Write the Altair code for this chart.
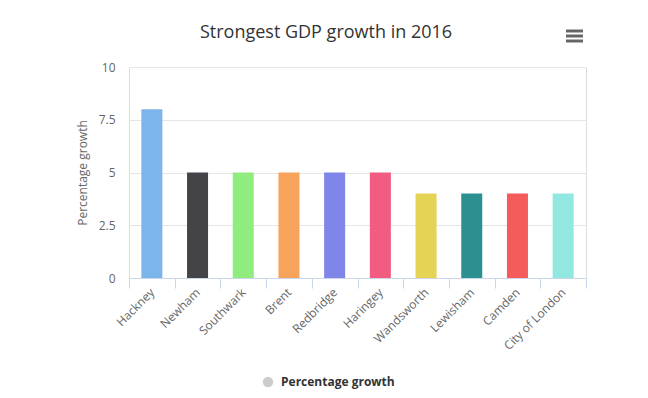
import altair as alt
import pandas as pd

boroughs = ["Hackney", "Newham", "Southwark", "Brent", "Redbridge", "Haringey",
            "Wandsworth", "Lewisham", "Camden", "City of London"]
growth = [8, 5, 5, 5, 5, 5, 4, 4, 4, 4]
colors = ["#7cb5ec", "#434348", "#90ed7d", "#f7a35c", "#8085e9", "#f15c80",
          "#e4d354", "#2b908f", "#f45b5b", "#91e8e1"]
y_ticks = [0, 2.5, 5, 7.5, 10]
title_text = "Strongest GDP growth in 2016"
series_name = "Percentage growth"

df = pd.DataFrame({"Borough": boroughs, "Growth": growth})
one = pd.DataFrame({"k": [0]})

FONT = "Open Sans"
W, H = 457, 211

bars = alt.Chart(df).mark_bar(width={"band": 0.46}).encode(
    x=alt.X("Borough:N", sort=boroughs,
            scale=alt.Scale(paddingInner=0, paddingOuter=0),
            axis=alt.Axis(title=None, labelAngle=-45, labelAlign="right",
                          labelBaseline="middle", tickBand="extent",
                          tickSize=10, labelPadding=2, domainColor="#ccd6eb",
                          tickColor="#ccd6eb", labelColor="#666666",
                          labelFontSize=12, labelFont=FONT, grid=False)),
    y=alt.Y("Growth:Q", scale=alt.Scale(domain=[0, 10], nice=False),
            axis=alt.Axis(title=series_name, values=y_ticks,
                          labelExpr="toString(datum.value)",
                          domain=False, ticks=False, gridColor="#e6e6e6",
                          labelColor="#666666", labelFontSize=12, labelFont=FONT,
                          labelPadding=14, titleColor="#666666", titleFontSize=12,
                          titleFont=FONT, titleFontWeight="normal", titlePadding=9)),
    color=alt.Color("Borough:N", sort=boroughs,
                    scale=alt.Scale(domain=boroughs, range=colors), legend=None),
)

title = alt.Chart(one).mark_text(fontSize=18, font=FONT, color="#333333",
                                 align="center", baseline="alphabetic").encode(
    x=alt.value(197), y=alt.value(-29), text=alt.value(title_text))

menu_rows = pd.DataFrame({"yy": [-36, -31, -26]})
menu = alt.Chart(menu_rows).mark_rule(strokeWidth=3, color="#666666").encode(
    x=alt.value(437), x2=alt.value(454), y=alt.Y("yy:Q", scale=None))

legend_dot = alt.Chart(one).mark_point(filled=True, shape="circle", size=110,
                                       color="#cccccc", opacity=1).encode(
    x=alt.value(139), y=alt.value(315))
legend_text = alt.Chart(one).mark_text(fontSize=12, font=FONT, fontWeight="bold",
                                       color="#333333", align="left",
                                       baseline="middle").encode(
    x=alt.value(152), y=alt.value(315), text=alt.value(series_name))

chart = alt.layer(bars, title, menu, legend_dot, legend_text).properties(
    width=W, height=H,
    autosize=alt.AutoSizeParams(type="none"),
    padding={"left": 121, "top": 59, "right": 40, "bottom": 112},
).configure_view(stroke=None).configure(background="white")

chart.save("out.html", embed_options={"renderer": "svg", "actions": False})
